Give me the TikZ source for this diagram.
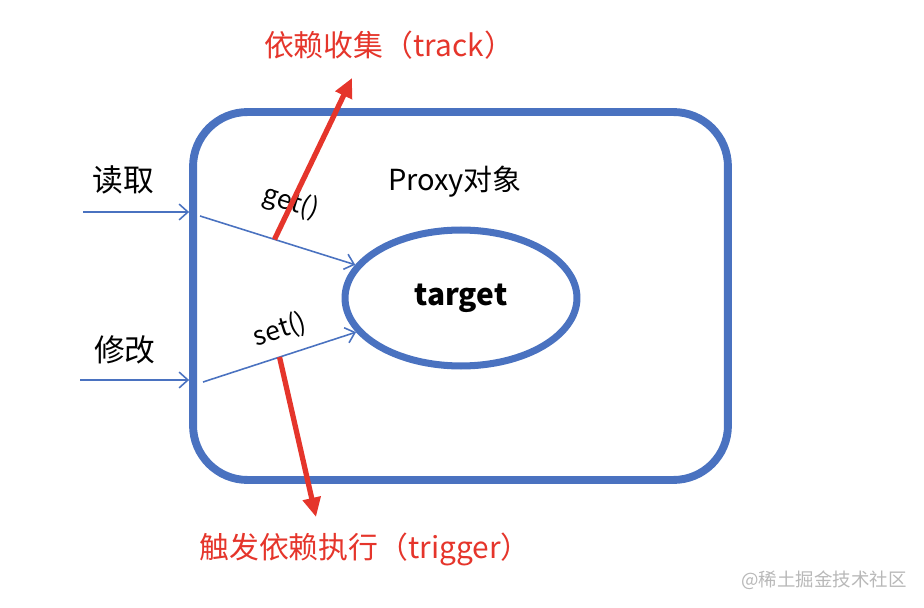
\documentclass[tikz,border=0pt]{standalone}
\usepackage{fontspec}
\setmainfont{Noto Sans CJK SC}
\usepackage{tikz}
\usetikzlibrary{positioning,arrows.meta,shapes.geometric,calc}
\definecolor{boxblue}{HTML}{4A72C0}
\definecolor{arrred}{HTML}{E5352B}
\tikzset{
  caixa/.style={draw=boxblue, line width=4.5pt, rounded corners=31pt, inner sep=0pt},
  alvo/.style={draw=boxblue, line width=4pt, ellipse, inner sep=0pt},
  fluxo/.style={draw=boxblue, line width=0.9pt, -{Straight Barb[length=5pt,width=9pt]}},
  dep/.style={draw=arrred, line width=3pt, -{Triangle[length=11pt,width=10pt]}},
  rotulo/.style={font=\fontsize{17.5}{20}\selectfont},
  deptxt/.style={text=arrred, font=\fontsize{17}{20}\selectfont},
}

\begin{document}
\begin{tikzpicture}[x=0.02cm, y=-0.02cm]
        \useasboundingbox (0,0) rectangle (924,608);

        % Objeto Proxy
        \node[caixa, minimum width=10.7cm, minimum height=7.36cm] (proxy) at (460.5,296) {};
        \node[font=\fontsize{16.5}{19}\selectfont] (titulo) at (455,182) {Proxy对象};
        \node[alvo, minimum width=4.64cm, minimum height=2.72cm, font=\fontsize{17}{20}\selectfont\bfseries] (target) at (461,298) {target};

        % Entradas
        \node[rotulo] (ler) at (123,180) {读取};
        \node[rotulo] (mudar) at (125,350) {修改};
        \coordinate (ler0) at (83,212);
        \coordinate (mudar0) at (80,380);
        \draw[fluxo] (ler0) -- (ler0 -| proxy.west);
        \draw[fluxo] (mudar0) -- (mudar0 -| proxy.west);

        % get / set
        \coordinate (get0) at (200,216);
        \coordinate (set0) at (203,382);
        \draw[fluxo] (get0) -- coordinate[pos=0.48] (getp) (target);
        \draw[fluxo] (set0) -- coordinate[pos=0.5] (setp) (target);
        \node[rotate=-17, font=\fontsize{15}{17}\selectfont] (getl) at (291,203) {get()};
        \node[rotate=18, font=\fontsize{15}{17}\selectfont] (setl) at (280,330) {set()};

        % Dependencias
        \node[deptxt] (track) at (389,45) {依赖收集（track）};
        \node[deptxt] (trigger) at (365,549) {触发依赖执行（trigger）};
        \coordinate (trackend) at (352,78);
        \coordinate (triggerend) at (316,517);
        \draw[dep] (getp) -- (trackend);
        \draw[dep] (setp) -- (triggerend);

        \node[text=black!28, font=\fontsize{10.5}{12}\selectfont] (marca) at (824,580) {@稀土掘金技术社区};
    \end{tikzpicture}
\end{document}
